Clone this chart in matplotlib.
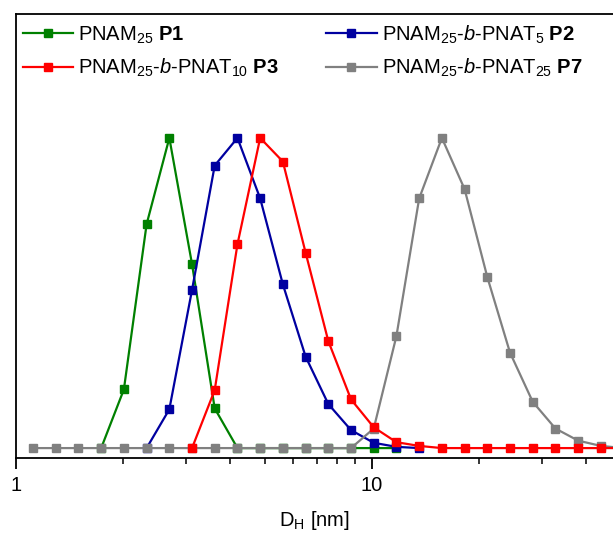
import matplotlib
matplotlib.use("Agg")
import matplotlib.pyplot as plt

plt.rcParams['font.family'] = ['Liberation Sans', 'DejaVu Sans']
plt.rcParams['mathtext.fontset'] = 'custom'
plt.rcParams['mathtext.rm'] = 'Liberation Sans'
plt.rcParams['mathtext.it'] = 'Liberation Sans:italic'
plt.rcParams['mathtext.bf'] = 'Liberation Sans:bold'

# DLS size bins (nm)
bins = [1.118, 1.295, 1.501, 1.738, 2.013, 2.332, 2.701, 3.128, 3.622, 4.196,
        4.860, 5.628, 6.520, 7.551, 8.746, 10.13, 11.73, 13.59, 15.74, 18.23,
        21.12, 24.45, 28.33, 32.81, 38.00, 44.01, 50.98]

# P1: bins 3..16
p1_x = bins[3:17]
p1_y = [0.0, 0.189, 0.722, 1.0, 0.593, 0.128, 0.0, 0.0, 0.0, 0.0, 0.0, 0.0, 0.0, 0.0]
# P2: bins 5..17
p2_x = bins[5:18]
p2_y = [0.0, 0.125, 0.510, 0.911, 1.0, 0.805, 0.528, 0.295, 0.142, 0.058, 0.017, 0.004, 0.0]
# P3: bins 7..26
p3_x = bins[7:27]
p3_y = [0.0, 0.187, 0.657, 1.0, 0.924, 0.630, 0.345, 0.157, 0.067, 0.019, 0.007,
        0.0, 0.0, 0.0, 0.0, 0.0, 0.0, 0.0, 0.0, 0.0]
# P7: bins 0..26
p7_x = bins[0:27]
p7_y = [0.0] * 15 + [0.063, 0.361, 0.805, 1.0, 0.835, 0.551, 0.308, 0.149, 0.063,
                     0.024, 0.007, 0.0]

labels = {
    'P1': r'PNAM$_{25}$ $\mathbf{P1}$',
    'P2': r'PNAM$_{25}$-$\mathit{b}$-PNAT$_{5}$ $\mathbf{P2}$',
    'P3': r'PNAM$_{25}$-$\mathit{b}$-PNAT$_{10}$ $\mathbf{P3}$',
    'P7': r'PNAM$_{25}$-$\mathit{b}$-PNAT$_{25}$ $\mathbf{P7}$',
}

fig = plt.figure(figsize=(6.13, 5.34), dpi=100)
ax = fig.add_axes([0.0256, 0.1423, 0.9744, 0.8317])

kw = dict(marker='s', markersize=6.3, linewidth=1.6)
l1, = ax.plot(p1_x, p1_y, color='#008000', label=labels['P1'], zorder=2, **kw)
l2, = ax.plot(p2_x, p2_y, color='#0000A0', label=labels['P2'], zorder=3, **kw)
l7, = ax.plot(p7_x, p7_y, color='#808080', label=labels['P7'], zorder=4, **kw)
l3, = ax.plot(p3_x, p3_y, color='#FF0000', label=labels['P3'], zorder=5, **kw)

ax.set_xscale('log')
ax.set_xlim(1, 47.6)
ax.set_ylim(-0.032, 1.40)
ax.set_yticks([])
ax.spines['right'].set_visible(False)
for s in ['left', 'bottom', 'top']:
    ax.spines[s].set_linewidth(1.3)
ax.tick_params(axis='x', which='major', direction='out', length=8, width=1.3,
               labelsize=14.5, pad=5)
ax.tick_params(axis='x', which='minor', direction='out', length=4, width=1.1)
ax.set_xticks([1, 10])
ax.set_xticklabels(['1', '10'])
ax.set_xlabel(r'D$_{\mathrm{H}}$ [nm]', fontsize=14.5, labelpad=10)

ax.legend(handles=[l1, l3, l2, l7], ncol=2, loc='upper left',
          bbox_to_anchor=(-0.01, 1.008), frameon=False, fontsize=14.5,
          handlelength=2.5, handletextpad=0.25, columnspacing=2.35,
          labelspacing=0.55, borderaxespad=0.25)

fig.savefig('out.png', dpi=100)
